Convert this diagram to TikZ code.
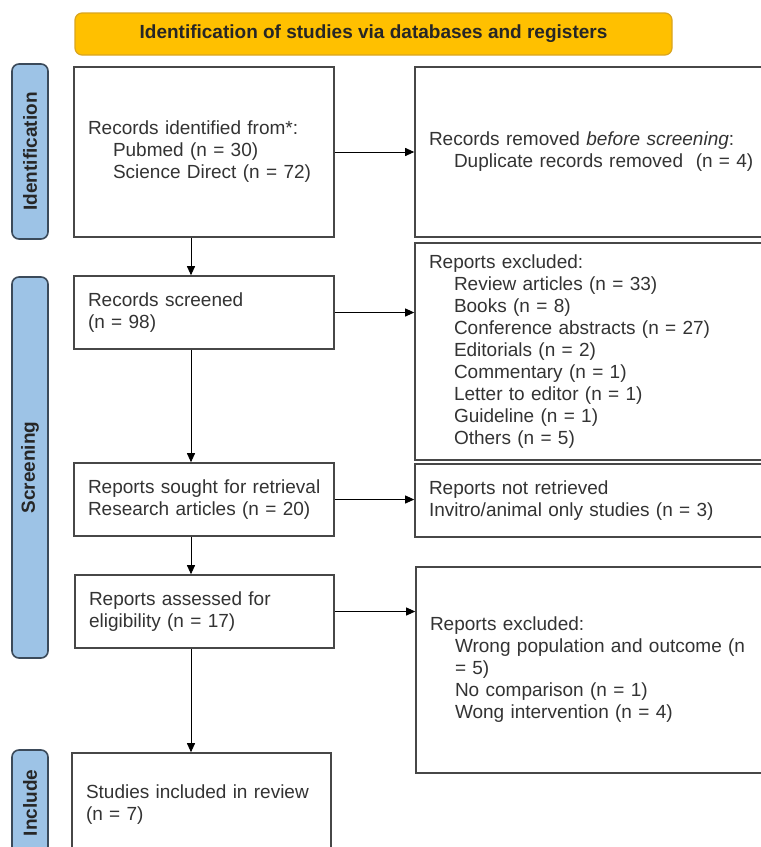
\documentclass[tikz,border=0pt]{standalone}
\usepackage{fontspec}
\setmainfont{Liberation Sans}
\usetikzlibrary{arrows.meta, calc}

\definecolor{boxline}{HTML}{474747}
\definecolor{phasefill}{HTML}{9DC3E6}
\definecolor{phaseline}{HTML}{3B4A5A}
\definecolor{bannerfill}{HTML}{FFC000}
\definecolor{bannerline}{HTML}{D9A520}
\definecolor{txt}{HTML}{333333}

\newcommand{\ind}{\hspace*{25pt}}

\begin{document}
\begin{tikzpicture}[x=1pt, y=-1pt]

        % Styles for boxes, phase labels and arrows
        \tikzset{
            stagebox/.style={draw=boxline, line width=1.6pt, fill=white, text=txt, align=left,
                inner xsep=14pt, inner ysep=0pt, font=\fontsize{19}{22}\selectfont},
            phase/.style={draw=phaseline, line width=1.6pt, fill=phasefill, rounded corners=7pt,
                rotate=90, minimum height=36pt, inner sep=0pt, text=black!85,
                font=\fontsize{19}{22}\selectfont\bfseries},
            banner/.style={draw=bannerline, line width=1.2pt, fill=bannerfill, rounded corners=7pt,
                minimum width=597pt, minimum height=42pt, inner sep=0pt, text=black!85,
                font=\fontsize{19}{22}\selectfont\bfseries},
            flow/.style={-{Triangle[length=9pt, width=8pt]}, line width=0.9pt, black}
        }

        \useasboundingbox (0,0) rectangle (761,847);
        \clip (0,0) rectangle (761,847);

        % =================================================================
        % 1. HEADER AND PHASE LABELS
        % =================================================================

        \node[banner] (head) at (373.5,34) {Identification of studies via databases and registers};

        \node[phase, minimum width=175pt] (phid) at (30,151.5) {Identification};
        \node[phase, minimum width=381pt] (phscreen) at (30,467.5) {Screening};
        \node[phase, minimum width=106pt] (phinc) at (30,803) {Include};

        % =================================================================
        % 2. MAIN COLUMN (left)
        % =================================================================

        \node[stagebox, text width=232pt, minimum height=170pt] (recid) at (204,152)
            {Records identified from*:\\ \ind Pubmed (n = 30)\\ \ind Science Direct (n = 72)};
        \node[stagebox, text width=232pt, minimum height=73pt] (screened) at (204,312.5)
            {Records screened\\(n = 98)};
        \node[stagebox, text width=232pt, minimum height=73pt] (sought) at (204,499.5)
            {\mbox{Reports sought for retrieval}\\Research articles (n = 20)};
        \node[stagebox, text width=231pt, minimum height=73pt] (assessed) at (204.5,611.5)
            {Reports assessed for\\eligibility (n = 17)};
        \node[stagebox, text width=231pt, minimum height=104pt] (included) at (201.5,805)
            {Studies included in review\\(n = 7)};

        % =================================================================
        % 3. SIDE COLUMN (right, running past the edge)
        % =================================================================

        \node[stagebox, text width=332pt, minimum height=170pt] (removed) at (595,152)
            {Records removed \textit{before screening}:\\ \ind Duplicate records removed\ \ (n = 4)};
        \node[stagebox, text width=332pt, minimum height=217pt] (exclA) at (595,351.5)
            {Reports excluded:\\ \ind Review articles (n = 33)\\ \ind Books (n = 8)\\
             \ind Conference abstracts (n = 27)\\ \ind Editorials (n = 2)\\
             \ind Commentary (n = 1)\\ \ind Letter to editor (n = 1)\\
             \ind Guideline (n = 1)\\ \ind Others (n = 5)};
        \node[stagebox, text width=332pt, minimum height=73pt] (notret) at (595,500.5)
            {Reports not retrieved\\Invitro/animal only studies (n = 3)};
        \node[stagebox, text width=331pt, minimum height=206pt] (exclB) at (595.5,670)
            {Reports excluded:\\ \ind Wrong population and outcome (n\\ \ind = 5)\\
             \ind No comparison (n = 1)\\ \ind Wong intervention (n = 4)};

        % =================================================================
        % 4. ARROWS
        % =================================================================

        \coordinate (spine) at (191,0);
        \draw[flow] (recid.south -| spine) -- (screened.north -| spine);
        \draw[flow] (screened.south -| spine) -- (sought.north -| spine);
        \draw[flow] (sought.south -| spine) -- (assessed.north -| spine);
        \draw[flow] (assessed.south -| spine) -- (included.north -| spine);

        \draw[flow] (recid.east) -- (removed.west);
        \draw[flow] (screened.east) -- (screened.east -| exclA.west);
        \draw[flow] (sought.east) -- (sought.east -| notret.west);
        \draw[flow] (assessed.east) -- (assessed.east -| exclB.west);

    \end{tikzpicture}
\end{document}
